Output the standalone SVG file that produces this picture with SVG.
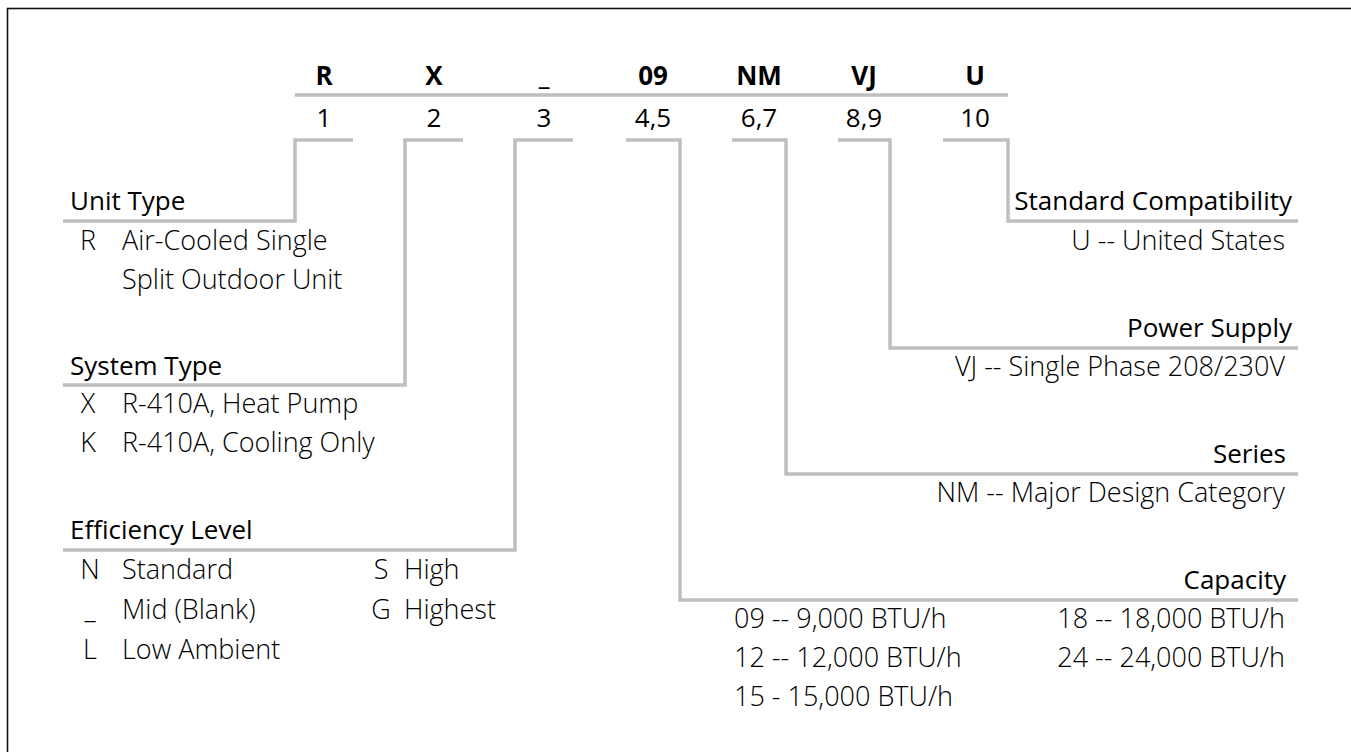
<svg xmlns="http://www.w3.org/2000/svg" width="1351" height="752" viewBox="0 0 1351 752">
<style>
text{font-family:"Open Sans","Liberation Sans",sans-serif;font-size:26px;fill:#000}
.code{font-weight:700;text-anchor:middle}
.pos{font-weight:400;text-anchor:middle}
.hd{font-weight:400}
.val{font-weight:300;font-size:27px}
.r{text-anchor:end}
.m{text-anchor:middle}
.ln{fill:none;stroke:#bfbfbf;stroke-width:3.5;stroke-linejoin:miter;stroke-linecap:butt}
</style>
<rect width="1351" height="752" fill="#fff"/>
<rect x="7.5" y="8.5" width="1400" height="800" fill="none" stroke="#111" stroke-width="1.6"/>

<g id="code-row">
<text class="code" x="324" y="85">R</text>
<text class="code" x="434" y="85">X</text>
<text class="code" x="544" y="85">_</text>
<text class="code" x="653" y="85">09</text>
<text class="code" x="759" y="85">NM</text>
<text class="code" x="864" y="85">VJ</text>
<text class="code" x="975" y="85">U</text>
<text class="pos" x="324" y="127">1</text>
<text class="pos" x="434" y="127">2</text>
<text class="pos" x="544" y="127">3</text>
<text class="pos" x="653" y="127">4,5</text>
<text class="pos" x="759" y="127">6,7</text>
<text class="pos" x="864" y="127">8,9</text>
<text class="pos" x="975" y="127">10</text>
</g>

<g id="connectors">
<path class="ln" d="M295 95H1008"/>
<path class="ln" d="M353 140H295V221H63"/>
<path class="ln" d="M463 140H405V385H63"/>
<path class="ln" d="M573 140H515V550H63"/>
<path class="ln" d="M626 140H680V600H1298"/>
<path class="ln" d="M732 140H786V474H1298"/>
<path class="ln" d="M838 140H890V348H1298"/>
<path class="ln" d="M943 140H1008V221H1298"/>
</g>

<g id="unit-type">
<text class="hd" x="70" y="210">Unit Type</text>
<text class="val m" x="88" y="250">R</text>
<text class="val" x="122" y="250">Air-Cooled Single</text>
<text class="val" x="122" y="289">Split Outdoor Unit</text>
</g>

<g id="system-type">
<text class="hd" x="70" y="375">System Type</text>
<text class="val m" x="88" y="413">X</text>
<text class="val" x="122" y="413">R-410A, Heat Pump</text>
<text class="val m" x="88" y="452">K</text>
<text class="val" x="122" y="452">R-410A, Cooling Only</text>
</g>

<g id="efficiency-level">
<text class="hd" x="70" y="539">Efficiency Level</text>
<text class="val m" x="90" y="579">N</text>
<text class="val" x="122" y="579">Standard</text>
<text class="val m" x="90" y="619">_</text>
<text class="val" x="122" y="619">Mid (Blank)</text>
<text class="val m" x="90" y="659">L</text>
<text class="val" x="122" y="659">Low Ambient</text>
<text class="val m" x="381" y="579">S</text>
<text class="val" x="404" y="579">High</text>
<text class="val m" x="381" y="619">G</text>
<text class="val" x="404" y="619">Highest</text>
</g>

<g id="standard-compatibility">
<text class="hd r" x="1292" y="210">Standard Compatibility</text>
<text class="val r" x="1285" y="250">U -- United States</text>
</g>

<g id="power-supply">
<text class="hd r" x="1292" y="337">Power Supply</text>
<text class="val r" x="1285" y="376">VJ -- Single Phase 208/230V</text>
</g>

<g id="series">
<text class="hd r" x="1286" y="463">Series</text>
<text class="val r" x="1285" y="502">NM -- Major Design Category</text>
</g>

<g id="capacity">
<text class="hd r" x="1286" y="589">Capacity</text>
<text class="val" x="734" y="628">09 -- 9,000 BTU/h</text>
<text class="val" x="734" y="667">12 -- 12,000 BTU/h</text>
<text class="val" x="734" y="706">15 - 15,000 BTU/h</text>
<text class="val r" x="1285" y="628">18 -- 18,000 BTU/h</text>
<text class="val r" x="1285" y="667">24 -- 24,000 BTU/h</text>
</g>
</svg>
